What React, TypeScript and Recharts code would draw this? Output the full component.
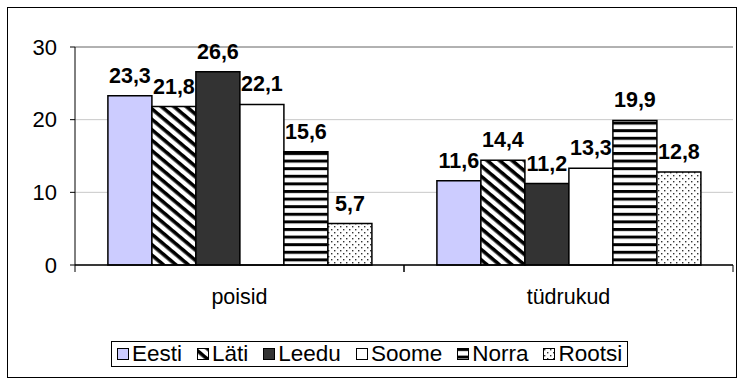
import {
  BarChart,
  Bar,
  XAxis,
  YAxis,
  CartesianGrid,
  LabelList,
  Legend,
  ReferenceLine,
} from 'recharts';

const categories = ['poisid', 'tüdrukud'];
const countries = ['Eesti', 'Läti', 'Leedu', 'Soome', 'Norra', 'Rootsi'];
const eesti = [23.3, 11.6];
const lati = [21.8, 14.4];
const leedu = [26.6, 11.2];
const soome = [22.1, 13.3];
const norra = [15.6, 19.9];
const rootsi = [5.7, 12.8];
const yTicks = [0, 10, 20, 30];

const seriesValues = [eesti, lati, leedu, soome, norra, rootsi];
const fills = ['#ccccff', 'url(#diag)', '#333333', '#ffffff', 'url(#horiz)', 'url(#dots)'];

const data = categories.map((cat, i) => {
  const row: Record<string, string | number> = { cat };
  countries.forEach((c, k) => {
    row[c] = seriesValues[k][i];
  });
  return row;
});

const FONT = 'Arial, "Liberation Sans", sans-serif';
const W = 743;
const H = 384;

const fmt = (v: any) => Number(v).toFixed(1).replace('.', ',');

function CatTick(props: any) {
  const { x, y, payload } = props;
  const off = payload?.offset ?? 164.5;
  return (
    <g>
      <line x1={x - off} x2={x - off} y1={y} y2={y + 7} stroke="#000" />
      <line x1={x + off} x2={x + off} y1={y} y2={y + 7} stroke="#000" />
      <text x={x} y={y + 39} textAnchor="middle" fontSize={21.5} fontFamily={FONT} fill="#000">
        {payload.value}
      </text>
    </g>
  );
}

function LegendBox() {
  return (
    <div
      style={{
        border: '1px solid #000',
        display: 'flex',
        alignItems: 'center',
        padding: '0px 5px',
        gap: 15,
        fontFamily: FONT,
        fontSize: 22.5,
        background: '#fff',
        lineHeight: '24px',
        whiteSpace: 'nowrap',
      }}
    >
      {countries.map((c, k) => (
        <div key={c} style={{ display: 'flex', alignItems: 'center', gap: 3 }}>
          <svg width={12} height={12}>
            <rect x={0.5} y={0.5} width={11} height={11} fill={fills[k]} stroke="#000" />
          </svg>
          <span>{c}</span>
        </div>
      ))}
    </div>
  );
}

export default function App() {
  return (
    <div style={{ position: 'absolute', left: 0, top: 0, width: W, height: H, background: '#fff' }}>
      <div
        style={{
          position: 'absolute',
          left: 7,
          top: 7,
          width: 728,
          height: 369,
          border: '1px solid #000',
        }}
      />
      <div style={{ position: 'absolute', left: 0, top: 0 }}>
        <BarChart
          width={W}
          height={H}
          data={data}
          margin={{ top: 47, right: 10, left: 10, bottom: 59 }}
          barCategoryGap="10%"
          barGap={0}
        >
          <defs>
            <pattern id="diag" width={8} height={8} patternUnits="userSpaceOnUse" patternTransform="rotate(40)">
              <rect width={8} height={8} fill="#fff" />
              <rect width={8} height={3.6} fill="#000" />
            </pattern>
            <pattern id="horiz" width={8} height={7.6} patternUnits="userSpaceOnUse">
              <rect width={8} height={7.6} fill="#fff" />
              <rect width={8} height={3} fill="#000" />
            </pattern>
            <pattern id="dots" width={6} height={6} patternUnits="userSpaceOnUse">
              <rect width={6} height={6} fill="#fff" />
              <rect x={1} y={1} width={1.4} height={1.4} fill="#333" />
              <rect x={4} y={4} width={1.4} height={1.4} fill="#333" />
            </pattern>
          </defs>
          <CartesianGrid vertical={false} stroke="#c8c8c8" />
          <XAxis
            dataKey="cat"
            tickLine={false}
            tickSize={0}
            tickMargin={0}
            axisLine={{ stroke: '#000', strokeWidth: 1.5 }}
            tick={<CatTick />}
            height={60}
            interval={0}
          />
          <YAxis
            domain={[0, 30]}
            ticks={yTicks}
            width={65}
            axisLine={{ stroke: '#000' }}
            tickLine={{ stroke: '#000' }}
            tickSize={5}
            tickMargin={13}
            tick={{ fill: '#000', fontSize: 22, fontFamily: FONT }}
          />
          <YAxis
            yAxisId="r"
            orientation="right"
            width={0}
            tick={false}
            tickLine={false}
            axisLine={{ stroke: '#808080' }}
          />
          <ReferenceLine y={30} stroke="#808080" />
          <Legend
            layout="horizontal"
            verticalAlign="middle"
            align="center"
            content={<LegendBox />}
            wrapperStyle={{ position: 'absolute', left: 111, top: 341, width: 'auto' }}
          />
          {countries.map((c, k) => (
            <Bar
              key={c}
              dataKey={c}
              fill={fills[k]}
              stroke="#000"
              strokeWidth={1.5}
              isAnimationActive={false}
            >
              <LabelList
                dataKey={c}
                position="top"
                offset={13}
                formatter={fmt}
                style={{ fontSize: 21.5, fontWeight: 'bold', fontFamily: FONT, fill: '#000' }}
              />
            </Bar>
          ))}
        </BarChart>
      </div>
    </div>
  );
}
